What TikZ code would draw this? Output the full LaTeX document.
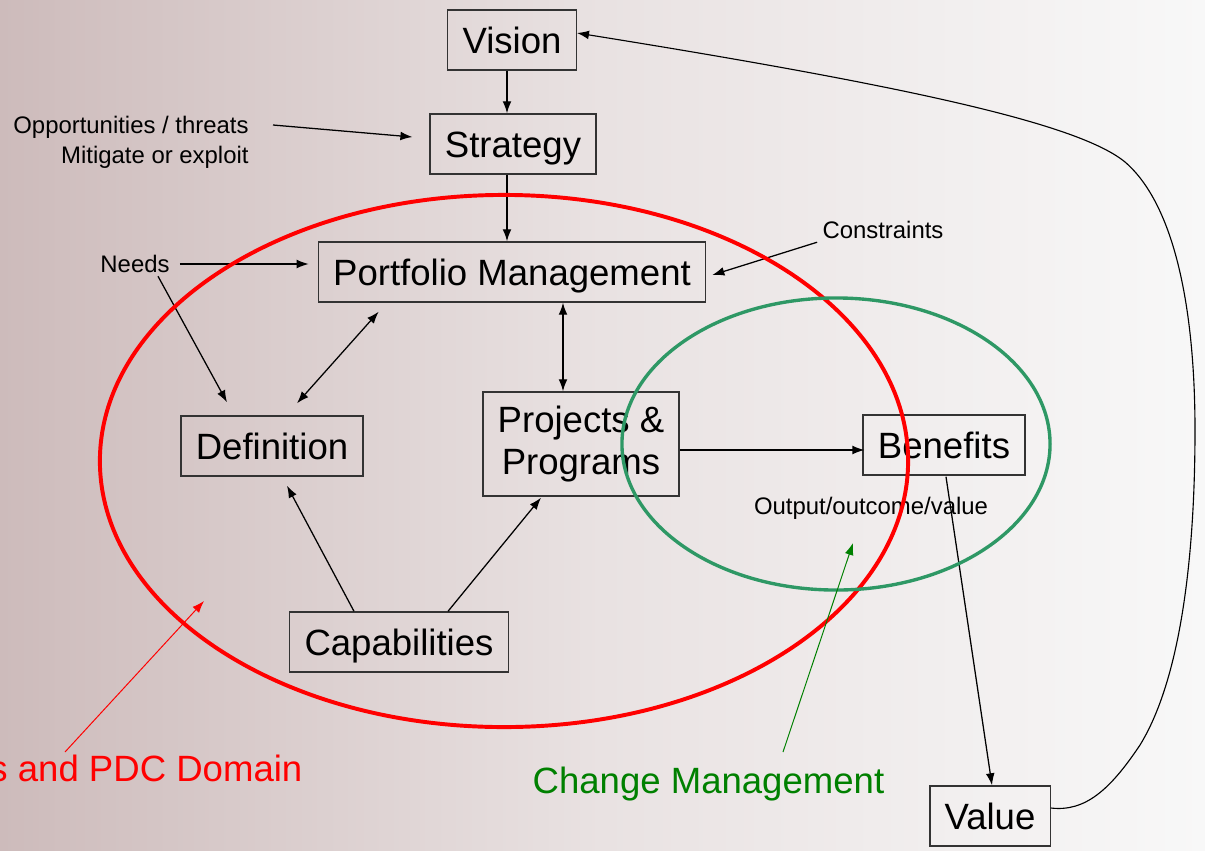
\documentclass[tikz,border=0pt]{standalone}
\usepackage{fontspec}
\setmainfont{Liberation Sans}
\usetikzlibrary{arrows.meta,calc}
\definecolor{cmgreen}{RGB}{46,152,101}
\definecolor{cmtext}{RGB}{0,128,0}
\definecolor{bgleft}{RGB}{205,187,187}
\definecolor{bgmid}{RGB}{233,226,226}
\definecolor{bgright}{RGB}{248,248,248}
\tikzset{
  box/.style={draw=black!80,line width=1pt,minimum height=1.5cm,inner xsep=0.37cm,
    inner ysep=6pt,text height=24pt,text depth=5.4pt,align=center,
    font=\fontsize{26}{30}\selectfont},
  lbl/.style={inner sep=2pt,font=\fontsize{17}{21.3}\selectfont},
  big/.style={inner sep=0pt,font=\fontsize{26}{30}\selectfont},
}

\begin{document}
\begin{tikzpicture}[x=0.025cm,y=-0.025cm,>={Latex[length=0.3cm,width=0.22cm]},line width=0.9pt]
  \clip (0,0) rectangle (1205,850);
  \shade[left color=bgleft,right color=bgright,middle color=bgmid] (0,0) rectangle (1205,850);

  % Boxes
  \node[box] (vision) at (512,40) {Vision};
  \node[box] (strategy) at (513,144) {Strategy};
  \node[box] (pm) at (512,272) {Portfolio Management};
  \node[box] (definition) at (272,446) {Definition};
  \node[box,text height=,text depth=,minimum height=2.6cm] (projects) at (581,444) {Projects \&\\Programs};
  \node[box] (benefits) at (944,445) {Benefits};
  \node[box] (capabilities) at (399,642) {Capabilities};
  \node[box] (value) at (990,816) {Value};

  % Side labels
  \node[lbl,align=right,anchor=east] (opp) at (252,142) {Opportunities / threats\\Mitigate or exploit};
  \node[lbl] (needs) at (135,264) {Needs};
  \node[lbl] (constraints) at (883,230) {Constraints};
  \node[lbl] (output) at (871,508) {Output/outcome/value};

  % Arrows
  \draw[->] ($(vision.south)+(-5,0)$) -- ($(strategy.north)+(-6,0)$);
  \draw[->] ($(strategy.south)+(-6,0)$) -- ($(pm.north)+(-5,0)$);
  \draw[->] ($(opp.east)+(21,-17)$) -- ($(strategy.west)+(-17,-7)$);
  \draw[->] ($(needs.east)+(7,0)$) -- ($(pm.west)+(-9,-8)$);
  \draw[->] ($(needs.south)+(23,0)$) -- ($(definition.north)+(-45,-13)$);
  \draw[<->] ($(pm.south west)+(61,9)$) -- ($(definition.north)+(25,-12)$);
  \draw[<->] ($(pm.south)+(51,0)$) -- ($(projects.north)+(-18,0)$);
  \draw[->] ($(constraints.south west)+(-2,0)$) -- ($(pm.east)+(6,3)$);
  \draw[->] ($(capabilities.north)+(-45,0)$) -- ($(definition.south)+(15,9)$);
  \draw[->] ($(capabilities.north)+(49,0)$) -- ($(projects.south)+(-40,1)$);
  \draw[->] ($(projects.east)+(0,6)$) -- ($(benefits.west)+(2,5)$);
  \draw[->] ($(benefits.south)+(2,1)$) -- ($(value.north)+(2,0)$);

  % Feedback loop
  \draw[->,line width=0.8pt] ($(value.east)+(0,-8)$) .. controls (1085,812) and (1110,790) .. (1140,745)
    .. controls (1180,680) and (1195,560) .. (1195,430)
    .. controls (1195,310) and (1175,205) .. (1125,162)
    .. controls (1080,125) and (920,88) .. ($(vision.east)+(0,-7)$);

  % Domains
  \draw[red,line width=2.8pt] (504,461) ellipse [x radius=10.1cm,y radius=6.65cm];
  \draw[cmgreen,line width=2.4pt] (836,444) ellipse [x radius=5.35cm,y radius=3.65cm];

  \node[big,text=red,anchor=base east] (domain) at (303,781) {s and PDC Domain};
  \node[big,text=cmtext,anchor=base west] (change) at (532,793) {Change Management};
  \coordinate (redtip) at (204,601);
  \coordinate (greentip) at (853,543);
  \draw[->,red,line width=0.7pt] ($(domain.base east)+(-238,-29)$) -- (redtip);
  \draw[->,cmtext,line width=0.7pt] ($(change.base west)+(251,-41)$) -- (greentip);
\end{tikzpicture}
\end{document}
